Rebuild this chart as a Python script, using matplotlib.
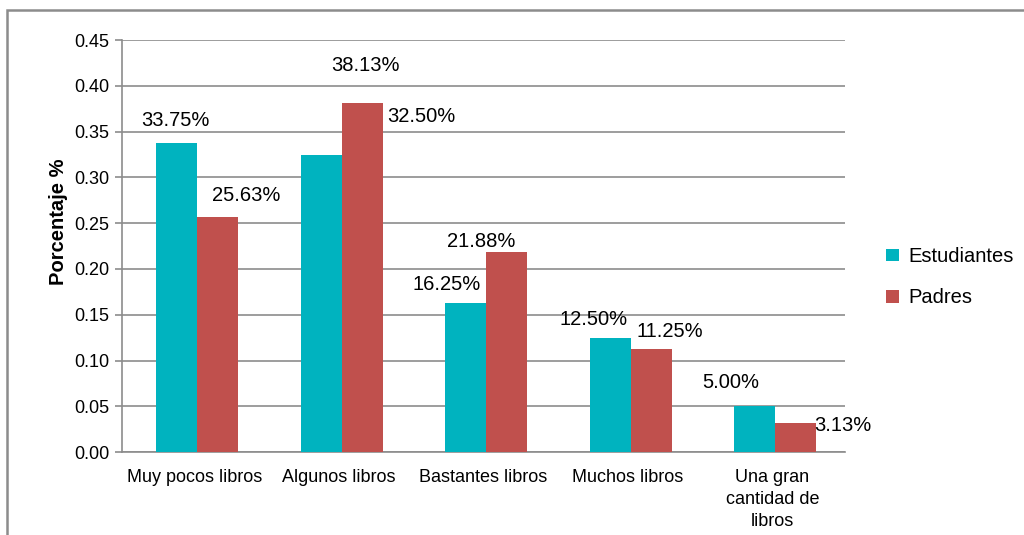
import numpy as np
import matplotlib.pyplot as plt
from matplotlib.patches import Rectangle

plt.rcParams['font.family'] = ['Liberation Sans', 'DejaVu Sans']

categorias = ['Muy pocos libros', 'Algunos libros', 'Bastantes libros',
              'Muchos libros', 'Una gran\ncantidad de\nlibros']
estudiantes = [0.3375, 0.3250, 0.1625, 0.1250, 0.0500]
padres = [0.2563, 0.3813, 0.2188, 0.1125, 0.0313]
series = ['Estudiantes', 'Padres']

# etiquetas de datos como en el original (posiciones algo desordenadas)
etiquetas = ['33.75%', '25.63%', '38.13%', '32.50%', '16.25%', '21.88%',
             '12.50%', '11.25%', '5.00%', '3.13%']

color_est = '#00B3BF'
color_pad = '#C0504D'
gris = '#8C8C8C'

fig = plt.figure(figsize=(10.24, 5.35), dpi=100)
ax = fig.add_axes([0.119, 0.155, 0.706, 0.770])

x = np.arange(len(categorias))
ancho = 0.284
corr = 0.02
b1 = ax.bar(x + corr - ancho / 2, estudiantes, ancho, color=color_est, label=series[0], zorder=3)
b2 = ax.bar(x + corr + ancho / 2, padres, ancho, color=color_pad, label=series[1], zorder=3)

# desplazamientos (dx en categorias, dy en datos) de cada etiqueta
desp = [(-0.127, 0.025), (0.358, 0.0245),
        (0.187, 0.0414), (0.568, 0.0420),
        (-0.252, 0.021), (-0.017, 0.0117),
        (-0.236, 0.0203), (0.290, 0.0195),
        (-0.290, 0.0265), (0.486, -0.0018)]
# valor de referencia de cada etiqueta
base = [estudiantes[0], padres[0], padres[1], estudiantes[1],
        estudiantes[2], padres[2], estudiantes[3], padres[3],
        estudiantes[4], padres[4]]
cat = [0, 0, 1, 1, 2, 2, 3, 3, 4, 4]
for txt, c, yi, (dx, dy) in zip(etiquetas, cat, base, desp):
    ax.text(x[c] + dx, yi + dy, txt, ha='center', va='center', fontsize=14.5, zorder=4)

ax.set_ylim(0, 0.45)
ax.set_xlim(-0.5, len(categorias) - 0.5)
ticks = np.arange(0, 0.451, 0.05)
ax.set_yticks(ticks)
ax.set_yticklabels([f'{v:.2f}' for v in ticks])
ax.set_xticks(x)
ax.set_xticklabels(categorias, linespacing=1.4)
ax.tick_params(axis='y', labelsize=13, color=gris, length=5, width=1.2, pad=4)
ax.tick_params(axis='x', labelsize=13, length=0, pad=12)
ax.yaxis.grid(True, color=gris, linewidth=1.2, zorder=0)
for lado in ['top', 'right']:
    ax.spines[lado].set_visible(False)
ax.spines['left'].set_color(gris)
ax.spines['bottom'].set_color(gris)
ax.spines['left'].set_linewidth(1.2)
ax.spines['bottom'].set_linewidth(1.2)

ax.set_ylabel('Porcentaje %', fontsize=14.5, fontweight='bold')
ax.yaxis.set_label_coords(-0.075, 0.558)

fig.legend(handles=[b1, b2], loc='center left', bbox_to_anchor=(0.848, 0.482),
           frameon=False, fontsize=14.5, handlelength=0.6, handleheight=0.6,
           handletextpad=0.5, labelspacing=1.1)

# marco exterior
fig.patches.append(Rectangle((0.0068, -0.05), 1.2, 1.031, transform=fig.transFigure,
                             fill=False, edgecolor=gris, linewidth=1.8))

fig.savefig('out.png', dpi=100)
